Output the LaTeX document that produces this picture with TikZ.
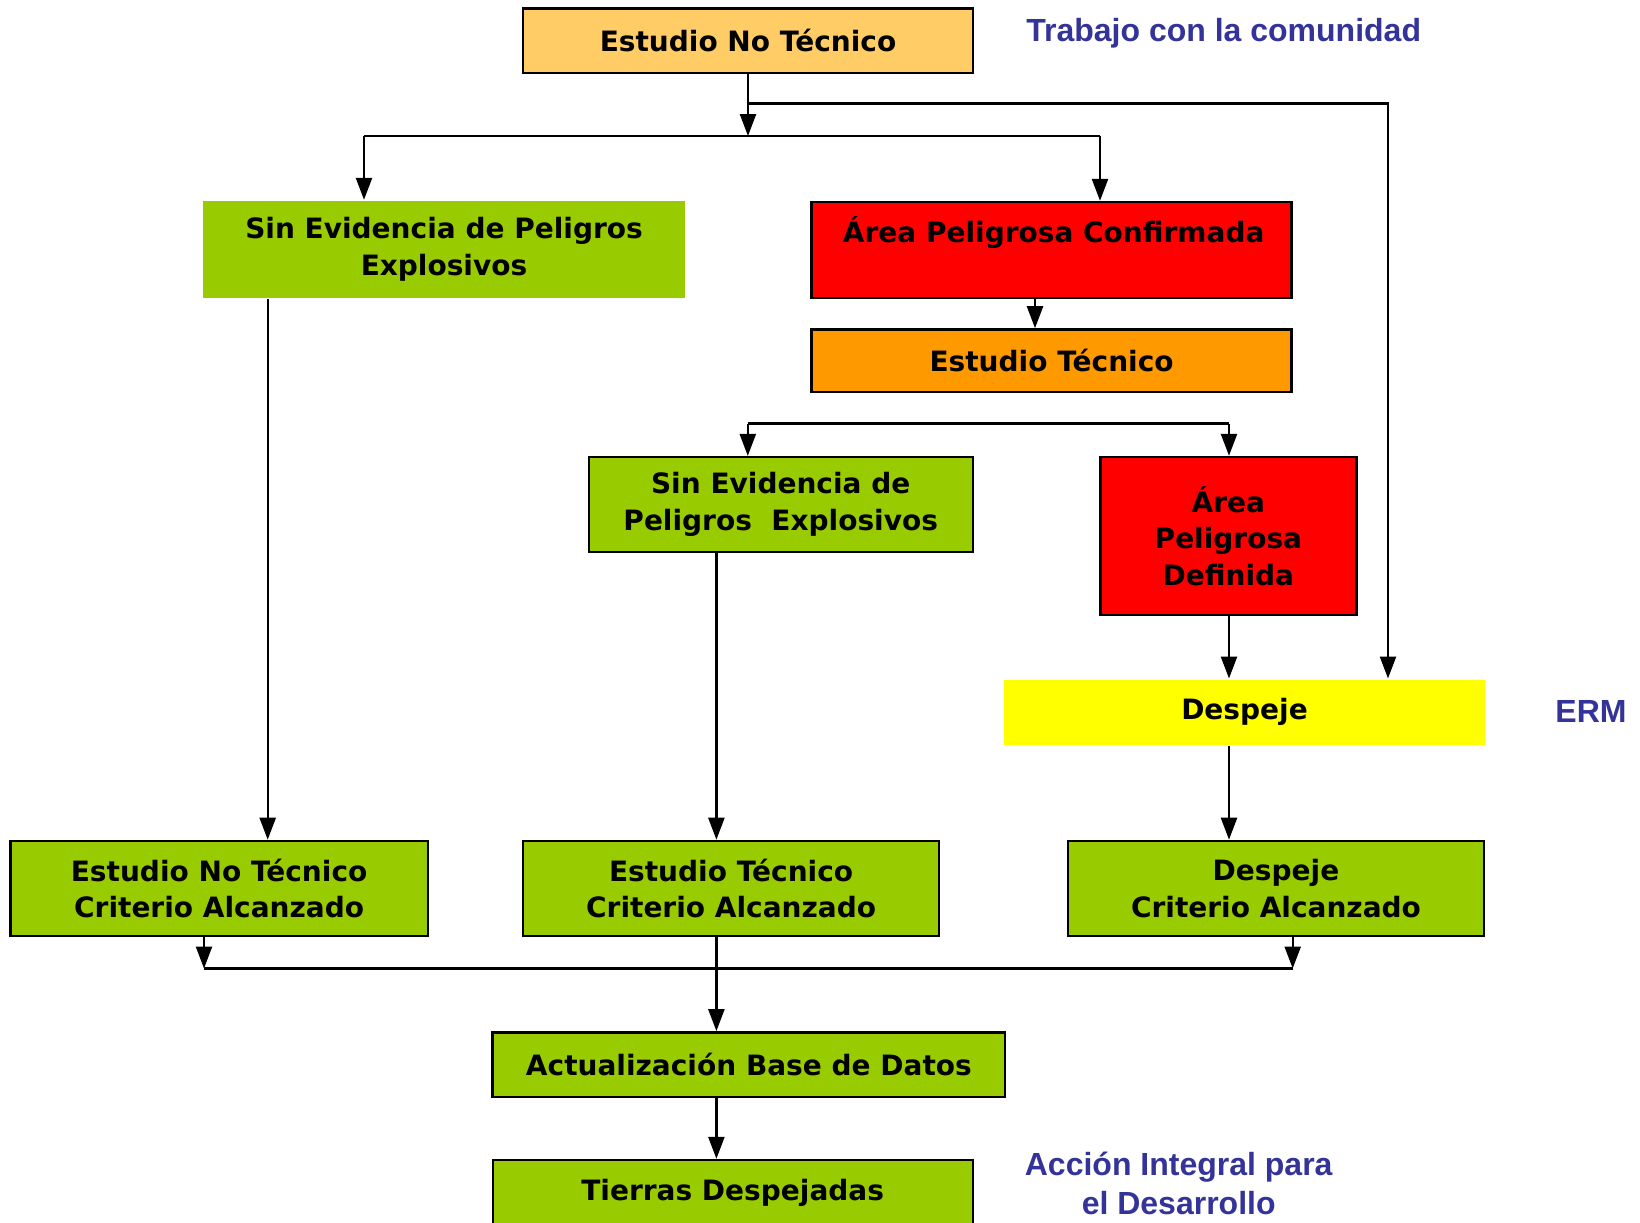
\documentclass[tikz,border=0pt]{standalone}
\usepackage{fontspec}
\setmainfont{Liberation Sans}
\newfontfamily\boxfont{DejaVu Sans}
\usetikzlibrary{arrows.meta}

\definecolor{paleorange}{RGB}{255,204,102}
\definecolor{leaf}{RGB}{153,204,0}
\definecolor{alarm}{RGB}{255,0,0}
\definecolor{amber}{RGB}{255,153,0}
\definecolor{lemon}{RGB}{255,255,0}
\definecolor{navy}{RGB}{51,51,153}

\begin{document}
\begin{tikzpicture}[x=0.5pt,y=-0.5pt,
  box/.style={draw=black, line width=1.2pt, inner sep=0pt, anchor=center, align=center,
    font={\boxfont\bfseries\fontsize{14}{18.3}\selectfont}},
  plainbox/.style={box, draw=none},
  txt/.style={inner sep=0pt, anchor=center, align=center,
    font={\boxfont\bfseries\fontsize{14}{18.3}\selectfont}},
  note/.style={inner sep=0pt, anchor=center, align=center, text=navy,
    font={\bfseries\fontsize{16}{19.4}\selectfont}},
  wire/.style={line width=1.2pt},
  arr/.style={line width=1.2pt, -{Triangle[length=11pt,width=8pt]}}]

\useasboundingbox (0,0) rectangle (1640,1222);
\fill[white] (0,0) rectangle (1640,1222);

% ---- boxes ----
\node[box, fill=paleorange, minimum width=225pt, minimum height=32.4pt] (top) at (748,40.8) {Estudio No Técnico};
\node[plainbox, fill=leaf, minimum width=241pt, minimum height=48.5pt] (sev1) at (444,249.5) {Sin Evidencia de Peligros\\Explosivos};
\node[box, fill=alarm, minimum width=240pt, minimum height=48pt] (apc) at (1051.6,250) {};
\node[txt] (apct) at (1053.7,233) {Área Peligrosa Confirmada};
\node[box, fill=amber, minimum width=240pt, minimum height=31.4pt] (et) at (1051.6,360.8) {Estudio Técnico};
\node[box, fill=leaf, minimum width=192pt, minimum height=47.5pt] (sev2) at (780.7,504.6) {Sin Evidencia de\\Peligros\ \ Explosivos};
\node[box, fill=alarm, minimum width=128.1pt, minimum height=79pt] (apd) at (1228.4,536) {Área\\Peligrosa\\Definida};
\node[plainbox, fill=lemon, minimum width=240.5pt, minimum height=32.5pt] (desp) at (1244.5,712.2) {Despeje};
\node[box, fill=leaf, minimum width=208.7pt, minimum height=47.6pt] (b1) at (219.1,888.5) {Estudio No Técnico\\Criterio Alcanzado};
\node[box, fill=leaf, minimum width=208.1pt, minimum height=47.6pt] (b2) at (731.1,888.5) {Estudio Técnico\\Criterio Alcanzado};
\node[box, fill=leaf, minimum width=208.1pt, minimum height=47.6pt] (b3) at (1276,888.5) {Despeje\\Criterio Alcanzado};
\node[box, fill=leaf, minimum width=256.3pt, minimum height=32.4pt] (act) at (748.9,1064.7) {Actualización Base de Datos};
\node[box, fill=leaf, minimum width=240pt, minimum height=32.5pt] (tie) at (732.7,1192.5) {Tierras Despejadas};

% ---- side notes ----
\node[note] (n1) at (1223.7,33.5) {Trabajo con la comunidad};
\node[note] (n2) at (1591,711) {ERM};
\node[note] (n3) at (1178.7,1183.4) {Acción Integral para\\el Desarrollo};

% ---- junction points ----
\coordinate (s1) at (748,136);
\coordinate (sL) at (364,136);
\coordinate (sR) at (1100,136);
\coordinate (b0) at (748,103.5);
\coordinate (ermx) at (1388,103.5);
\coordinate (x1035) at (1035,0);
\coordinate (bl) at (747.8,423.6);
\coordinate (br) at (1229,423.6);
\coordinate (xa) at (267.7,0);
\coordinate (xb) at (716.4,0);
\coordinate (xc) at (1229,0);
\coordinate (mL) at (204,968.5);
\coordinate (mR) at (1292.7,968.5);

% ---- connectors ----
\draw[arr] (top.south) -- (s1);
\draw[wire] (sL) -- (sR);
\draw[arr] (sL) -- (sL |- sev1.north);
\draw[arr] (sR) -- (sR |- apc.north);
\draw[arr] (b0) -- (ermx) -- (ermx |- desp.north);
\draw[arr] (apc.south -| x1035) -- (et.north -| x1035);
\draw[wire] (bl) -- (br);
\draw[arr] (bl) -- (bl |- sev2.north);
\draw[arr] (br) -- (br |- apd.north);
\draw[arr] (apd.south -| xc) -- (desp.north -| xc);
\draw[arr] (sev1.south -| xa) -- (b1.north -| xa);
\draw[arr] (sev2.south -| xb) -- (b2.north -| xb);
\draw[arr] (desp.south -| xc) -- (b3.north -| xc);
\draw[arr] (b1.south -| mL) -- (mL);
\draw[arr] (b3.south -| mR) -- (mR);
\draw[wire] (mL) -- (mR);
\draw[arr] (b2.south -| xb) -- (act.north -| xb);
\draw[arr] (act.south -| xb) -- (tie.north -| xb);
\end{tikzpicture}
\end{document}
